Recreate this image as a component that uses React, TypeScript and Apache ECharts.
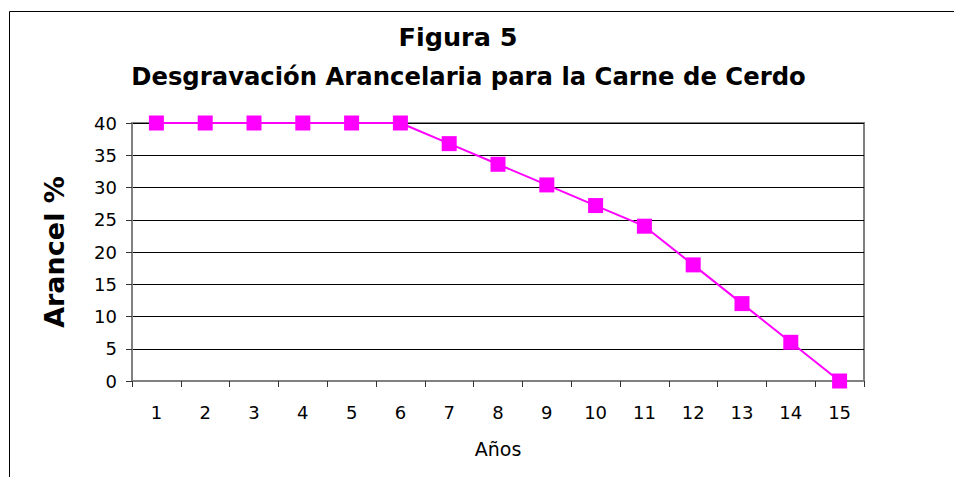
import React, { useEffect, useRef } from "react";
import * as echarts from "echarts";

const years = ["1", "2", "3", "4", "5", "6", "7", "8", "9", "10", "11", "12", "13", "14", "15"];
const tariff = [40, 40, 40, 40, 40, 40, 36.8, 33.6, 30.4, 27.2, 24, 18, 12, 6, 0];
const titleLine1 = "Figura 5";
const titleLine2 = "Desgravación Arancelaria para la Carne de Cerdo";
const yAxisTitle = "Arancel %";
const xAxisTitle = "Años";

export default function App() {
  const ref = useRef<HTMLDivElement>(null);
  useEffect(() => {
    if (!ref.current) return;
    const chart = echarts.init(ref.current, null, { renderer: "svg" });
    const font = "'DejaVu Sans', Arial, sans-serif";
    chart.setOption({
      animation: false,
      backgroundColor: "#ffffff",
      graphic: [
        { type: "line", shape: { x1: 9.5, y1: 11.5, x2: 954, y2: 11.5 }, style: { stroke: "#000", lineWidth: 1 } },
        { type: "line", shape: { x1: 9.5, y1: 11.5, x2: 9.5, y2: 477 }, style: { stroke: "#000", lineWidth: 1 } },
        {
          type: "text",
          x: 458,
          y: 37,
          style: {
            text: titleLine1,
            textAlign: "center",
            textVerticalAlign: "middle",
            fontFamily: font,
            fontSize: 25.5,
            fontWeight: "bold",
            fill: "#000",
          },
        },
        {
          type: "text",
          x: 468.5,
          y: 76,
          style: {
            text: titleLine2,
            textAlign: "center",
            textVerticalAlign: "middle",
            fontFamily: font,
            fontSize: 24.3,
            fontWeight: "bold",
            fill: "#000",
          },
        },
      ],
      grid: {
        left: 132,
        top: 123,
        right: 90,
        bottom: 96,
        show: true,
        borderColor: "#808080",
        borderWidth: 2,
        backgroundColor: "transparent",
      },
      xAxis: {
        type: "category",
        data: years,
        boundaryGap: true,
        name: xAxisTitle,
        nameLocation: "middle",
        nameGap: 58,
        nameTextStyle: { fontFamily: font, fontSize: 19, color: "#000" },
        axisLine: { show: true, lineStyle: { color: "#808080", width: 2 } },
        axisTick: { show: true, alignWithLabel: false, length: 6, lineStyle: { color: "#333", width: 1 } },
        axisLabel: { fontFamily: font, fontSize: 18, color: "#000", margin: 22, interval: 0 },
        splitLine: { show: false },
      },
      yAxis: {
        type: "value",
        min: 0,
        max: 40,
        interval: 5,
        name: yAxisTitle,
        nameLocation: "middle",
        nameGap: 64,
        nameRotate: 90,
        nameTextStyle: { fontFamily: font, fontSize: 27, fontWeight: "bold", color: "#000" },
        axisLine: { show: true, lineStyle: { color: "#808080", width: 2 } },
        axisTick: { show: true, length: 6, lineStyle: { color: "#333", width: 1 } },
        axisLabel: { fontFamily: font, fontSize: 18, color: "#000", margin: 15 },
        splitLine: { show: true, lineStyle: { color: "#000", width: 1 } },
      },
      series: [
        {
          type: "line",
          data: tariff,
          symbol: "rect",
          symbolSize: 15,
          color: "#ff00ff",
          lineStyle: { color: "#ff00ff", width: 2 },
          itemStyle: { color: "#ff00ff" },
          z: 5,
        },
      ],
    });
    return () => chart.dispose();
  }, []);
  return (
    <div
      ref={ref}
      style={{ position: "absolute", left: 0, top: 0, width: 954, height: 477 }}
    />
  );
}
